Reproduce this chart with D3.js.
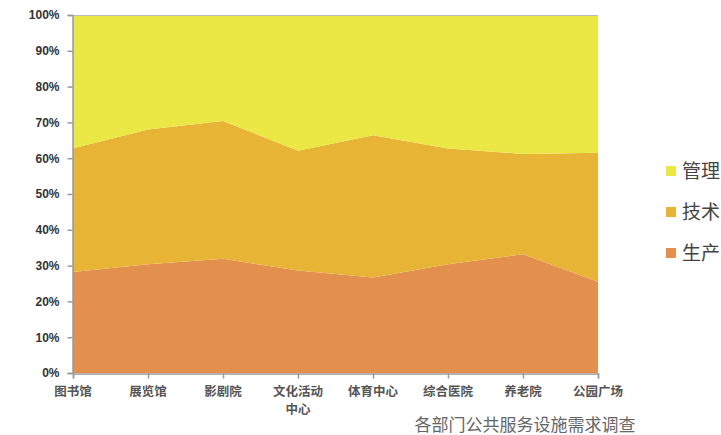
<!DOCTYPE html>
<html>
<head>
<meta charset="utf-8">
<script src="https://cdn.jsdelivr.net/npm/d3@7"></script>
<style>
	body { margin: 0; background: #fff; }
	svg { display: block; }
</style>
</head>
<body>
<div id="chart"></div>
<script>
// categories along the bottom
var categories = ["图书馆", "展览馆", "影剧院", "文化活动中心", "体育中心", "综合医院", "养老院", "公园广场"];
// share of each department (percent)
var production = [28.2, 30.4, 31.9, 28.6, 26.7, 30.4, 33.2, 25.5];
var technical  = [34.6, 37.6, 38.5, 33.5, 39.7, 32.3, 28.0, 36.0];
var management = [37.2, 32.0, 29.6, 37.9, 33.6, 37.3, 38.8, 38.5];
var seriesNames = ["生产", "技术", "管理"];
var seriesColors = ["#e3904f", "#e7b436", "#ebe846"];
var yTicks = [0, 0.1, 0.2, 0.3, 0.4, 0.5, 0.6, 0.7, 0.8, 0.9, 1];
var title = "各部门公共服务设施需求调查";

var width = 721, height = 435;
var plotLeft = 73, plotRight = 598, plotTop = 15, plotBottom = 373;

var rows = categories.map(function(c, i) {
	var tot = production[i] + technical[i] + management[i];
	return { cat: c, "生产": production[i] / tot, "技术": technical[i] / tot, "管理": management[i] / tot };
});

var svg = d3.select("#chart")
	.append("svg")
	.attr("width", width)
	.attr("height", height);

var x = d3.scalePoint().domain(categories).range([plotLeft, plotRight]).padding(0);
var y = d3.scaleLinear().domain([0, 1]).range([plotBottom, plotTop]);

var stack = d3.stack().keys(seriesNames);
var layers = stack(rows);

var area = d3.area()
	.x(function(d) { return x(d.data.cat); })
	.y0(function(d) { return y(d[0]); })
	.y1(function(d) { return y(d[1]); });

svg.selectAll(".layer")
	.data(layers)
	.enter().append("path")
	.attr("class", "layer")
	.attr("d", area)
	.style("fill", function(d, i) { return seriesColors[i]; });

// top border
svg.append("line")
	.attr("x1", plotLeft).attr("x2", plotRight)
	.attr("y1", plotTop + 0.5).attr("y2", plotTop + 0.5)
	.style("stroke", "#bbb");

// y axis
var yAxis = svg.append("g")
	.attr("transform", "translate(" + (plotLeft - 0.5) + ",0)")
	.call(d3.axisLeft(y).tickValues(yTicks).tickFormat(d3.format(".0%")).tickSizeOuter(0).tickSize(5).tickPadding(8));
yAxis.select(".domain").style("stroke", "#999").style("stroke-width", 1.5);
yAxis.selectAll(".tick line").style("stroke", "#999").style("stroke-width", 1.5);
yAxis.selectAll(".tick text")
	.style("font-family", "Arial, 'Liberation Sans', sans-serif")
	.style("font-size", "12px")
	.style("font-weight", "bold")
	.style("fill", "#333");

// x axis
var xAxis = svg.append("g")
	.attr("transform", "translate(0," + (plotBottom + 0.5) + ")")
	.call(d3.axisBottom(x).tickSizeOuter(0).tickSize(5).tickFormat(""));
xAxis.select(".domain").style("stroke", "#999").style("stroke-width", 1.5);
xAxis.selectAll(".tick line").style("stroke", "#999").style("stroke-width", 1.5);

// category labels, long ones wrapped after four characters
var labelLines = [];
categories.forEach(function(c) {
	var parts = c.length > 4 ? [c.slice(0, 4), c.slice(4)] : [c];
	parts.forEach(function(p, i) { labelLines.push({ cat: c, text: p, line: i }); });
});

svg.selectAll(".cat")
	.data(labelLines)
	.enter().append("text")
	.attr("class", "cat")
	.attr("x", function(d) { return x(d.cat); })
	.attr("y", function(d) { return 396 + d.line * 18; })
	.attr("text-anchor", "middle")
	.text(function(d) { return d.text; })
	.style("font-family", "'Noto Sans CJK SC', sans-serif")
	.style("font-size", "12.5px")
	.style("font-weight", "bold")
	.style("fill", "#555");

// legend
var legendNames = seriesNames.slice().reverse();
var legendColors = seriesColors.slice().reverse();
var legend = svg.selectAll(".legend")
	.data(legendNames)
	.enter().append("g")
	.attr("class", "legend")
	.attr("transform", function(d, i) { return "translate(666," + (171 + i * 41) + ")"; });
legend.append("rect")
	.attr("x", 0).attr("y", -5)
	.attr("width", 10).attr("height", 10)
	.style("fill", function(d, i) { return legendColors[i]; });
legend.append("text")
	.attr("x", 16).attr("y", 7)
	.text(function(d) { return d; })
	.style("font-family", "'Noto Sans CJK SC', sans-serif")
	.style("font-size", "19px")
	.style("fill", "#444");

// title
svg.append("text")
	.attr("x", 525).attr("y", 431)
	.attr("text-anchor", "middle")
	.text(title)
	.style("font-family", "'Noto Sans CJK SC', sans-serif")
	.style("font-size", "17px")
	.style("fill", "#666");
</script>
</body>
</html>
